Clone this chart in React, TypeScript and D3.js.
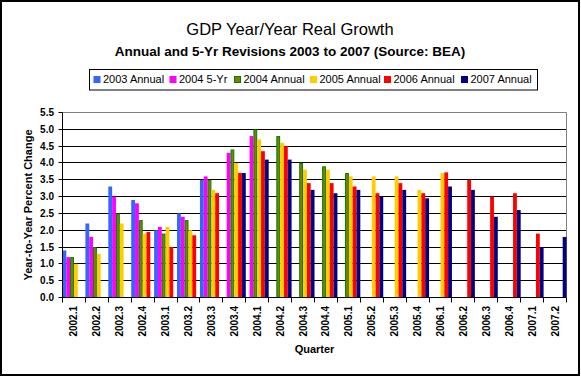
import React from 'react';
import * as d3 from 'd3';

const categories = [
  '2002.1', '2002.2', '2002.3', '2002.4', '2003.1', '2003.2', '2003.3', '2003.4',
  '2004.1', '2004.2', '2004.3', '2004.4', '2005.1', '2005.2', '2005.3', '2005.4',
  '2006.1', '2006.2', '2006.3', '2006.4', '2007.1', '2007.2',
];

const seriesNames = ['2003 Annual', '2004 5-Yr', '2004 Annual', '2005 Annual', '2006 Annual', '2007 Annual'];
const seriesColors = ['#3366FF', '#FF00FF', '#808000', '#FFCC00', '#FF0000', '#000080'];
const seriesStroke = ['none', 'none', '#008000', 'none', 'none', 'none'];

const s2003Annual = [1.4, 2.2, 3.3, 2.9, 2.0, 2.5, 3.5, null, null, null, null, null, null, null, null, null, null, null, null, null, null, null];
const s2004FiveYr = [1.2, 1.8, 3.0, 2.8, 2.1, 2.4, 3.6, 4.3, 4.8, null, null, null, null, null, null, null, null, null, null, null, null, null];
const s2004Annual = [1.2, 1.5, 2.5, 2.3, 1.9, 2.3, 3.5, 4.4, 5.0, 4.8, 4.0, 3.9, 3.7, null, null, null, null, null, null, null, null, null];
const s2005Annual = [1.0, 1.3, 2.2, 1.9, 2.1, 2.0, 3.2, 4.0, 4.7, 4.6, 3.8, 3.8, 3.6, 3.6, 3.6, 3.2, 3.7, null, null, null, null, null];
const s2006Annual = [null, null, null, 1.95, 1.5, 1.85, 3.1, 3.7, 4.35, 4.5, 3.4, 3.4, 3.3, 3.1, 3.4, 3.1, 3.72, 3.5, 3.0, 3.1, 1.9, null];
const s2007Annual = [null, null, null, null, null, null, null, 3.7, 4.1, 4.1, 3.2, 3.1, 3.2, 3.0, 3.2, 2.95, 3.3, 3.2, 2.4, 2.6, 1.5, 1.8];

const seriesValues = [s2003Annual, s2004FiveYr, s2004Annual, s2005Annual, s2006Annual, s2007Annual];

const yTickValues = [0, 0.5, 1.0, 1.5, 2.0, 2.5, 3.0, 3.5, 4.0, 4.5, 5.0, 5.5];

const title = 'GDP Year/Year Real Growth';
const subtitle = 'Annual and 5-Yr Revisions 2003 to 2007 (Source: BEA)';
const yTitle = 'Year-to-Year Percent Change';
const xTitle = 'Quarter';

const FONT = '"Liberation Sans", Arial, sans-serif';
const legendItemX = [93.5, 169.5, 234, 310, 384, 461];

export default function App() {
  const W = 581;
  const H = 377;
  const plot = { left: 62.5, right: 566.5, top: 112.5, bottom: 297.5 };

  const x = d3.scaleBand<string>().domain(categories).range([plot.left, plot.right]).paddingInner(0).paddingOuter(0);
  const inner = d3.scaleBand<string>().domain(seriesNames).range([0, x.bandwidth()]).padding(0);
  const y = d3.scaleLinear().domain([0, 5.5]).range([plot.bottom, plot.top]);
  const fmt = d3.format('.1f');
  const crisp = (v: number) => Math.round(v - 0.5) + 0.5;

  const boundaries = categories.map((c) => x(c) as number).concat([plot.right]);

  return (
    <svg width={W} height={H} style={{ position: 'absolute', left: 0, top: 0, background: '#fff' }} fontFamily={FONT}>
      <rect x={0} y={0} width={W} height={H} fill="#fff" />
      <rect x={1} y={1} width={578} height={374} fill="none" stroke="#000" strokeWidth={2} />

      <text x={290} y={35} textAnchor="middle" fontSize={16.5} fill="#000">{title}</text>
      <text x={290} y={55.5} textAnchor="middle" fontSize={13.5} fontWeight="bold" fill="#000">{subtitle}</text>

      {/* legend */}
      <rect x={89.5} y={69.5} width={448} height={20.5} fill="#fff" stroke="#000" strokeWidth={1} />
      {seriesNames.map((name, i) => (
        <g key={name}>
          <rect
            x={legendItemX[i]}
            y={76}
            width={seriesStroke[i] === 'none' ? 7 : 6}
            height={seriesStroke[i] === 'none' ? 7 : 6}
            transform={seriesStroke[i] === 'none' ? undefined : 'translate(0.5,0.5)'}
            fill={seriesColors[i]}
            stroke={seriesStroke[i]}
            strokeWidth={1}
          />
          <text x={legendItemX[i] + 9.5} y={83.3} fontSize={11} fill="#000">{name}</text>
        </g>
      ))}

      {/* gridlines */}
      {yTickValues.filter((v) => v > 0 && v < 5.5).map((v) => (
        <line key={v} x1={plot.left} x2={plot.right} y1={crisp(y(v))} y2={crisp(y(v))} stroke="#000" strokeWidth={1} />
      ))}
      <line x1={plot.left} x2={plot.right} y1={crisp(y(5.5))} y2={crisp(y(5.5))} stroke="#808080" strokeWidth={1} />
      <line x1={plot.right} x2={plot.right} y1={plot.top} y2={plot.bottom} stroke="#808080" strokeWidth={1} />

      {/* bars */}
      {seriesValues.map((vals, si) => (
        <g key={seriesNames[si]}>
          {vals.map((v, ci) => {
            if (v === null) return null;
            const bx = (x(categories[ci]) as number) + (inner(seriesNames[si]) as number);
            const by = y(v);
            const hasStroke = seriesStroke[si] !== 'none';
            return (
              <rect
                key={ci}
                x={hasStroke ? bx + 0.5 : bx}
                y={hasStroke ? by + 0.5 : by}
                width={hasStroke ? inner.bandwidth() - 1 : inner.bandwidth()}
                height={hasStroke ? plot.bottom - by - 0.5 : plot.bottom - by}
                fill={seriesColors[si]}
                stroke={seriesStroke[si]}
                strokeWidth={1}
              />
            );
          })}
        </g>
      ))}

      {/* axes */}
      <line x1={plot.left} x2={plot.left} y1={plot.top} y2={plot.bottom} stroke="#000" strokeWidth={1} />
      <line x1={plot.left} x2={plot.right} y1={plot.bottom} y2={plot.bottom} stroke="#000" strokeWidth={1} />
      {yTickValues.map((v) => (
        <g key={v}>
          <line x1={plot.left - 4} x2={plot.left} y1={crisp(y(v))} y2={crisp(y(v))} stroke="#000" strokeWidth={1} />
          <text x={54} y={y(v) + 3.5} textAnchor="end" fontSize={10} fontWeight="bold" fill="#000">{fmt(v)}</text>
        </g>
      ))}
      {boundaries.map((bx, i) => (
        <line key={i} x1={crisp(bx)} x2={crisp(bx)} y1={plot.bottom} y2={plot.bottom + 5} stroke="#000" strokeWidth={1} />
      ))}
      {categories.map((c) => {
        const cx = (x(c) as number) + x.bandwidth() / 2 + 3.5;
        const cy = 306;
        return (
          <text key={c} transform={`translate(${cx},${cy}) rotate(-90)`} textAnchor="end" fontSize={10} fontWeight="bold" fill="#000">{c}</text>
        );
      })}

      <text transform={`translate(32,${(plot.top + plot.bottom) / 2}) rotate(-90)`} textAnchor="middle" fontSize={11} fontWeight="bold" fill="#000">{yTitle}</text>
      <text x={(plot.left + plot.right) / 2} y={353} textAnchor="middle" fontSize={11} fontWeight="bold" fill="#000">{xTitle}</text>
    </svg>
  );
}
